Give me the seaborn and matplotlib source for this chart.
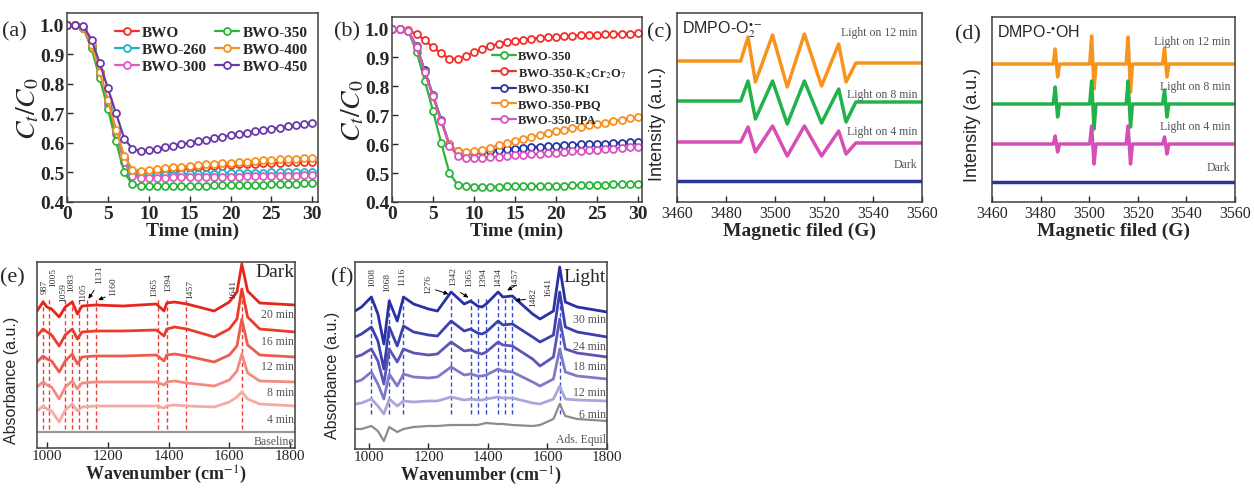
import matplotlib
matplotlib.use("Agg")
import matplotlib.pyplot as plt
import seaborn as sns

# ---------------- data ----------------
time_min = list(range(31))

a_names = ["BWO", "BWO-260", "BWO-300", "BWO-350", "BWO-400", "BWO-450"]
bwo = [1.0, 1.0, 0.99, 0.93, 0.84, 0.74, 0.64, 0.55, 0.505, 0.50, 0.502, 0.505, 0.508, 0.51, 0.512, 0.515,
       0.517, 0.519, 0.521, 0.523, 0.525, 0.527, 0.528, 0.53, 0.531, 0.532, 0.533, 0.534, 0.535, 0.536, 0.537]
bwo_260 = [1.0, 1.0, 0.99, 0.925, 0.835, 0.735, 0.635, 0.54, 0.495, 0.49, 0.49, 0.491, 0.492, 0.493, 0.494, 0.495,
           0.495, 0.496, 0.496, 0.497, 0.497, 0.498, 0.498, 0.499, 0.499, 0.5, 0.5, 0.501, 0.501, 0.502, 0.502]
bwo_300 = [1.0, 1.0, 0.99, 0.925, 0.83, 0.73, 0.63, 0.535, 0.487, 0.482, 0.481, 0.482, 0.482, 0.483, 0.483, 0.484,
           0.484, 0.485, 0.485, 0.486, 0.486, 0.486, 0.487, 0.487, 0.488, 0.488, 0.488, 0.489, 0.489, 0.49, 0.49]
bwo_350 = [1.0, 1.0, 0.99, 0.92, 0.82, 0.715, 0.605, 0.5, 0.46, 0.455, 0.453, 0.453, 0.453, 0.453, 0.454, 0.454,
           0.455, 0.455, 0.456, 0.456, 0.457, 0.457, 0.458, 0.458, 0.459, 0.46, 0.46, 0.461, 0.462, 0.463, 0.464]
bwo_400 = [1.0, 1.0, 0.99, 0.93, 0.84, 0.745, 0.645, 0.555, 0.51, 0.506, 0.508, 0.511, 0.514, 0.517, 0.52, 0.522,
           0.525, 0.527, 0.529, 0.531, 0.533, 0.535, 0.537, 0.539, 0.541, 0.542, 0.544, 0.545, 0.547, 0.548, 0.55]
bwo_450 = [1.0, 1.0, 0.995, 0.95, 0.87, 0.785, 0.70, 0.615, 0.58, 0.572, 0.575, 0.58, 0.585, 0.59, 0.596, 0.601,
           0.606, 0.611, 0.616, 0.621, 0.626, 0.631, 0.635, 0.639, 0.643, 0.648, 0.652, 0.656, 0.66, 0.664, 0.668]

b_names = ["BWO-350", "BWO-350-K$_2$Cr$_2$O$_7$", "BWO-350-KI", "BWO-350-PBQ", "BWO-350-IPA"]
sc_k2cr2o7 = [1.0, 1.0, 0.995, 0.98, 0.96, 0.935, 0.915, 0.895, 0.895, 0.905, 0.918, 0.93, 0.94, 0.947, 0.953, 0.958,
              0.962, 0.965, 0.968, 0.97, 0.972, 0.974, 0.975, 0.977, 0.978, 0.979, 0.98, 0.981, 0.982, 0.982, 0.983]
sc_ki = [1.0, 1.0, 0.99, 0.94, 0.855, 0.77, 0.685, 0.6, 0.575, 0.57, 0.572, 0.575, 0.578, 0.58, 0.583, 0.585,
         0.587, 0.589, 0.591, 0.593, 0.594, 0.596, 0.597, 0.599, 0.6, 0.601, 0.602, 0.604, 0.605, 0.606, 0.607]
sc_pbq = [1.0, 1.0, 0.99, 0.935, 0.85, 0.765, 0.68, 0.6, 0.575, 0.572, 0.575, 0.58, 0.588, 0.596, 0.604, 0.611,
          0.618, 0.625, 0.632, 0.638, 0.644, 0.65, 0.655, 0.66, 0.665, 0.67, 0.675, 0.68, 0.685, 0.69, 0.694]
sc_ipa = [1.0, 1.0, 0.99, 0.935, 0.85, 0.765, 0.68, 0.595, 0.56, 0.553, 0.552, 0.553, 0.555, 0.557, 0.559, 0.561,
          0.563, 0.565, 0.567, 0.569, 0.571, 0.573, 0.575, 0.577, 0.579, 0.581, 0.583, 0.585, 0.587, 0.589, 0.591]

# EPR DMPO-O2 (key points, arbitrary offset units)
c_field = [3460, 3486, 3489, 3492, 3499, 3505, 3512, 3519, 3526, 3529, 3533, 3560]
c_12min = [141, 141, 165, 120, 167, 115, 168, 116, 158, 120, 139, 139]
c_8min = [101, 101, 121, 83, 121, 78, 121, 79, 113, 80, 100, 100]
c_4min = [60, 60, 75, 50, 76, 46, 76, 46, 71, 48, 59, 59]
c_dark = [21, 21, 21, 21, 21, 21, 21, 21, 21, 21, 21, 21]

# EPR DMPO-OH
d_field = [3460, 3485.2, 3486.0, 3487.0, 3487.8, 3500.2, 3501.0, 3502.0, 3502.8, 3515.2, 3516.0, 3517.0,
           3517.8, 3530.2, 3531.0, 3532.0, 3532.8, 3560]
d_12min = [138, 138, 153, 125, 138, 138, 166, 113, 138, 138, 165, 110, 138, 138, 154, 125, 138, 138]
d_8min = [98, 98, 115, 85, 98, 98, 121, 73, 98, 98, 121, 75, 98, 98, 112, 85, 98, 98]
d_4min = [58, 58, 66, 50, 58, 58, 76, 38, 58, 58, 76, 38, 58, 58, 65, 48, 58, 58]
d_dark = [20, 20, 20, 20, 20, 20, 20, 20, 20, 20, 20, 20, 20, 20, 20, 20, 20, 20]
epr_labels = ["Light on 12 min", "Light on 8 min", "Light on 4 min", "Dark"]

# in-situ IR, dark
e_wn = [967, 987, 1000, 1015, 1040, 1060, 1083, 1100, 1115, 1160, 1250, 1360, 1385, 1394, 1420, 1460,
        1550, 1600, 1625, 1641, 1660, 1700, 1816]
e_20 = [137, 146, 141, 139, 131, 141, 146, 134, 142, 143, 142, 144, 137, 145, 146, 144, 137, 146, 156, 184, 157, 145, 143]
e_16 = [112, 119, 116, 113, 102, 113, 119, 109, 116, 117, 117, 118, 112, 119, 121, 119, 111, 119, 129, 159, 131, 119, 116]
e_12 = [86, 92, 89, 87, 76, 87, 94, 84, 91, 92, 92, 93, 87, 93, 94, 92, 86, 93, 102, 129, 103, 93, 91]
e_8 = [61, 66, 63, 61, 49, 61, 67, 59, 65, 66, 66, 66, 63, 66, 67, 65, 62, 68, 77, 94, 75, 67, 66]
e_4 = [37, 42, 39, 37, 26, 38, 44, 37, 41, 42, 42, 42, 40, 42, 43, 42, 41, 46, 51, 56, 49, 44, 42]
e_base_wn = [967, 1816]
e_base = [16, 16]
e_names = ["20 min", "16 min", "12 min", "8 min", "4 min"]
e_peaks = [987, 1005, 1059, 1083, 1105, 1131, 1160, 1365, 1394, 1457, 1641]

# in-situ IR, light
f_wn = [953, 975, 1008, 1030, 1050, 1068, 1095, 1116, 1150, 1200, 1230, 1276, 1320, 1342, 1365, 1380, 1394,
        1434, 1450, 1482, 1550, 1575, 1620, 1641, 1660, 1700, 1800]
f_30 = [138, 142, 152, 135, 105, 148, 128, 152, 145, 140, 138, 157, 145, 148, 143, 142, 145, 157, 152, 153, 135, 130, 138, 182, 147, 142, 137]
f_24 = [112, 115, 122, 108, 80, 122, 103, 123, 117, 114, 113, 128, 118, 120, 116, 115, 117, 128, 124, 125, 112, 107, 114, 157, 122, 117, 112]
f_18 = [92, 94, 100, 88, 65, 100, 87, 100, 96, 94, 95, 107, 98, 99, 96, 95, 97, 107, 104, 103, 90, 83, 92, 130, 100, 96, 92]
f_12 = [67, 69, 77, 65, 50, 75, 63, 75, 72, 71, 72, 82, 74, 75, 73, 73, 74, 80, 78, 77, 67, 63, 70, 100, 77, 73, 70]
f_6 = [45, 46, 50, 43, 35, 50, 43, 48, 47, 48, 48, 52, 49, 50, 49, 49, 50, 52, 51, 51, 46, 45, 50, 63, 50, 49, 48]
f_ads = [20, 20, 23, 18, 8, 22, 17, 20, 22, 23, 23, 24, 24, 24, 24, 25, 26, 25, 25, 24, 23, 24, 30, 45, 33, 30, 28]
f_names = ["30 min", "24 min", "18 min", "12 min", "6 min"]
f_peaks = [1008, 1068, 1116, 1276, 1342, 1365, 1394, 1434, 1457, 1482, 1641]

# ---------------- style ----------------
sns.set_style("ticks")
plt.rcParams["font.family"] = ["Liberation Serif", "DejaVu Serif"]
plt.rcParams["mathtext.fontset"] = "stix"
plt.rcParams["axes.linewidth"] = 1.1
plt.rcParams["axes.edgecolor"] = "#404040"
SANS = ["Liberation Sans", "DejaVu Sans"]

W, H = 1254, 489
fig = plt.figure(figsize=(W / 100, H / 100), dpi=100)
fig.patch.set_facecolor("white")


def add_ax(l, t, r, b):
    return fig.add_axes([l / W, 1 - b / H, (r - l) / W, (b - t) / H])


def style_ticks(ax, size, bold=False, pad=2):
    ax.tick_params(direction="in", length=4, width=1, labelsize=size, pad=pad,
                   top=False, right=False)
    for lab in ax.get_xticklabels() + ax.get_yticklabels():
        lab.set_fontweight("bold" if bold else "normal")


def line(ax, x, y, color, lw=2.0, **kw):
    sns.lineplot(x=x, y=y, ax=ax, color=color, lw=lw, estimator=None, sort=False, **kw)


# ---------------- (a) ----------------
axa = add_ax(67, 14, 318, 203)
a_series = [bwo, bwo_260, bwo_300, bwo_350, bwo_400, bwo_450]
a_colors = ["#f0302a", "#1fb5c7", "#de5cc0", "#2bb53b", "#f7901e", "#6a3aa8"]
for name, ys, col in zip(a_names, a_series, a_colors):
    line(axa, time_min, ys, col, lw=1.6, marker="o", markersize=5, markerfacecolor="white",
         markeredgecolor=col, markeredgewidth=1.3, label=name)
axa.set_xlim(0, 30.7)
axa.set_ylim(0.4, 1.04)
axa.set_xticks([0, 5, 10, 15, 20, 25, 30])
axa.set_yticks([0.4, 0.5, 0.6, 0.7, 0.8, 0.9, 1.0])
style_ticks(axa, 14, bold=True)
axa.set_xlabel("Time (min)", fontsize=14, fontweight="bold", labelpad=0)
axa.set_ylabel(r"$C_t/C_0$", fontsize=20, labelpad=-1)
axa.legend(ncol=2, frameon=False, loc="upper left", bbox_to_anchor=(0.19, 0.935),
           borderpad=0, borderaxespad=0, handlelength=1.6, handletextpad=0.2,
           columnspacing=0.5, labelspacing=0.22, prop={"size": 11, "weight": "bold"})

# ---------------- (b) ----------------
axb = add_ax(392, 18, 642, 203)
b_series = [bwo_350, sc_k2cr2o7, sc_ki, sc_pbq, sc_ipa]
b_colors = ["#2bb53b", "#f0302a", "#2a36a8", "#f7901e", "#d852c0"]
for name, ys, col in zip(b_names, b_series, b_colors):
    line(axb, time_min, ys, col, lw=1.6, marker="o", markersize=5, markerfacecolor="white",
         markeredgecolor=col, markeredgewidth=1.3, label=name)
axb.set_xlim(0, 30.5)
axb.set_ylim(0.4, 1.04)
axb.set_xticks([0, 5, 10, 15, 20, 25, 30])
axb.set_yticks([0.4, 0.5, 0.6, 0.7, 0.8, 0.9, 1.0])
style_ticks(axb, 14, bold=True)
axb.set_xlabel("Time (min)", fontsize=14, fontweight="bold", labelpad=0)
axb.set_ylabel(r"$C_t/C_0$", fontsize=20, labelpad=-1)
axb.legend(ncol=1, frameon=False, loc="upper left", bbox_to_anchor=(0.40, 0.82),
           borderpad=0, borderaxespad=0, handlelength=1.9, handletextpad=0.15,
           labelspacing=0.28, prop={"size": 9, "weight": "bold"})

# ---------------- (c) / (d) EPR ----------------
epr_colors = ["#f7941d", "#22b24c", "#d64fb6", "#2b3597"]


def epr_panel(ax, field, traces, ylim, label_y, title):
    for ys, col in zip(traces, epr_colors):
        line(ax, field, ys, col, lw=2.5)
    ax.set_xlim(3460, 3560)
    ax.set_ylim(0, ylim)
    ax.set_xticks([3460, 3480, 3500, 3520, 3540, 3560])
    ax.set_yticks([])
    style_ticks(ax, 11.5)
    ax.set_xlabel("Magnetic filed (G)", fontsize=14, fontweight="bold", labelpad=1)
    ax.set_ylabel("Intensity (a.u.)", fontsize=13, family=SANS)
    for txt, yv in zip(epr_labels, label_y):
        ax.text(3558, yv, txt, ha="right", va="center", fontsize=8.5, color="#555555")
    ax.text(0.02, 0.97, title, transform=ax.transAxes, ha="left", va="top", fontsize=11.5,
            family=SANS)


axc = add_ax(677, 14, 922, 203)
epr_panel(axc, c_field, [c_12min, c_8min, c_4min, c_dark], 189, [170, 108, 71, 38],
          r"DMPO-O$_2^{\bullet-}$")
axc.yaxis.set_label_coords(-0.045, 0.42)

axd = add_ax(992, 18, 1235, 203)
epr_panel(axd, d_field, [d_12min, d_8min, d_4min, d_dark], 185, [161, 116, 76, 35],
          r"DMPO-$^{\bullet}$OH")
axd.yaxis.set_label_coords(-0.045, 0.42)

# ---------------- (e) / (f) IR ----------------
e_colors = ["#e6261c", "#ea3b2c", "#ee5b4d", "#f28b82", "#f6aaa4"]
f_colors = ["#2a30a6", "#3b3fb0", "#5b55b8", "#8079c9", "#aaa5dd"]


def ir_panel(ax, wn, traces, colors, base_wn, base, base_col, xlim, ylim, names, name_y,
             head, head_y, base_name, base_y, peaks, lab_x, lab_top, dash_rng, dash_col, arrows):
    for px in peaks:
        ax.plot([px, px], dash_rng, ls=(0, (3, 2)), color=dash_col, lw=1.0, zorder=1)
    line(ax, base_wn, base, base_col, lw=1.6)
    for ys, col in reversed(list(zip(traces, colors))):
        line(ax, wn, ys, col, lw=2.0)
    ax.set_xlim(*xlim)
    ax.set_ylim(0, ylim)
    ax.set_xticks([1000, 1200, 1400, 1600, 1800])
    ax.set_yticks([])
    style_ticks(ax, 11, pad=1)
    ax.set_xlabel("Wavenumber (cm$^{-1}$)", fontsize=13, fontweight="bold", labelpad=0)
    ax.set_ylabel("Absorbance (a.u.)", fontsize=11.5, family=SANS)
    xr = xlim[1] - 3
    for txt, yv in zip(names, name_y):
        ax.text(xr, yv, txt, ha="right", va="center", fontsize=8.5, color="#555555")
    ax.text(xr, head_y, head, ha="right", va="center", fontsize=14)
    ax.text(xr, base_y, base_name, ha="right", va="center", fontsize=8.5, color="#555555")
    for pk, lx, lt in zip(peaks, lab_x, lab_top):
        ax.text(lx, lt, str(pk), rotation=90, ha="center", va="top", fontsize=6.8, color="#333333")
    for pk, lx, ly, ty in arrows:
        ax.annotate("", xy=(pk, ty), xytext=(lx, ly),
                    arrowprops=dict(arrowstyle="-|>", color="black", lw=0.7, mutation_scale=6))


axe = add_ax(37, 263, 295, 449)
e_lab_x = [993, 1020, 1052, 1080, 1120, 1170, 1216, 1352, 1398, 1472, 1612]
e_lab_top = [169, 181, 166, 176, 166, 184, 172, 171, 176, 169, 169]
ir_panel(axe, e_wn, [e_20, e_16, e_12, e_8, e_4], e_colors, e_base_wn, e_base, "#9a9a9a",
         (967, 1816), 186, e_names, [134, 107, 82, 56, 29], "Dark", 176, "Baseline", 7,
         e_peaks, e_lab_x, e_lab_top, [19, 150], "#f03a30",
         [(1131, 1160, 160, 147), (1160, 1200, 152, 147)])
axe.yaxis.set_label_coords(-0.07, 0.37)

axf = add_ax(355, 263, 607, 450)
f_lab_x = [1009, 1060, 1110, 1200, 1284, 1338, 1384, 1435, 1491, 1552, 1603]
f_lab_top = [182, 177, 182, 175, 183, 182, 182, 182, 182, 162, 172]
ir_panel(axf, f_wn, [f_30, f_24, f_18, f_12, f_6], f_colors, f_wn, f_ads, "#8c8c8c",
         (953, 1800), 187, f_names, [130, 103, 83, 57, 35], "Light", 172, "Ads. Equil", 10,
         f_peaks, f_lab_x, f_lab_top, [35, 153], "#3a48d0",
         [(1276, 1215, 160, 154), (1342, 1300, 158, 150), (1457, 1500, 165, 157),
          (1482, 1535, 150, 148)])
axf.yaxis.set_label_coords(-0.06, 0.40)

# ---------------- panel letters ----------------
for txt, px, py in [("(a)", 2, 32), ("(b)", 334, 32), ("(c)", 647, 33), ("(d)", 955, 35),
                    ("(e)", 0, 278), ("(f)", 331, 278)]:
    fig.text(px / W, 1 - py / H, txt, ha="left", va="center", fontsize=16)

fig.savefig("out.png", dpi=100, facecolor="white")
